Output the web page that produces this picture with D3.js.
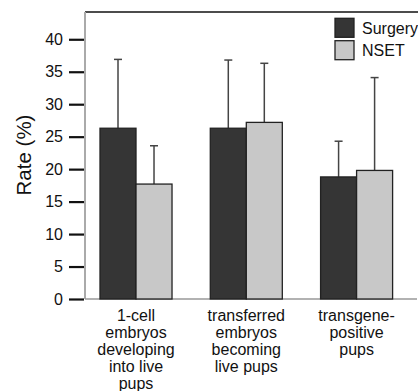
<!DOCTYPE html>
<html>
<head>
<meta charset="utf-8">
<script src="https://cdn.jsdelivr.net/npm/d3@7"></script>
<style>
  body { margin: 0; background: #fff; }
  svg { display: block; font-family: 'Liberation Sans', Arial, sans-serif; }
</style>
</head>
<body>
<svg id="chart"></svg>
<script>
// data
var categories = [
    ['1-cell', 'embryos', 'developing', 'into live', 'pups'],
    ['transferred', 'embryos', 'becoming', 'live pups'],
    ['transgene-', 'positive', 'pups']
];
var series = ['Surgery', 'NSET'];
var surgery = [26.3, 26.3, 18.8];
var surgery_err = [10.6, 10.5, 5.5];
var nset = [17.7, 27.2, 19.8];
var nset_err = [5.9, 9.1, 14.3];
var y_ticks = [0, 5, 10, 15, 20, 25, 30, 35, 40];

var colors = { Surgery: '#353535', NSET: '#c8c8c8' };

var width = 418, height = 391;
var svg = d3.select('#chart').attr('width', width).attr('height', height);

var m = { left: 85, top: 12, bottom: 299, right: 418 };

var y = d3.scaleLinear().domain([0, 44.2]).range([m.bottom, m.top]);

var groups = categories.map(function(c, i){ return 'g' + i; });
var x = d3.scaleBand().domain(groups).range([m.left, 407.6]).paddingInner(0.347).paddingOuter(0.136);
var xs = d3.scaleBand().domain(series).range([0, x.bandwidth()]);

// frame lines
svg.append('line').attr('x1', m.left).attr('x2', m.right).attr('y1', m.top).attr('y2', m.top)
    .style('stroke', '#111').style('stroke-width', 1.5);
svg.append('line').attr('x1', m.left).attr('x2', m.left).attr('y1', m.top).attr('y2', m.bottom)
    .style('stroke', '#aaa').style('stroke-width', 2);
svg.append('line').attr('x1', m.left).attr('x2', m.right - 1).attr('y1', m.bottom).attr('y2', m.bottom)
    .style('stroke', '#999').style('stroke-width', 1.5);

// y axis ticks
var yAxis = d3.axisLeft(y).tickValues(y_ticks).tickSize(15).tickPadding(6);
var ya = svg.append('g').attr('transform', 'translate(' + (m.left - 1) + ',0)').call(yAxis);
ya.select('.domain').remove();
ya.selectAll('.tick line').style('stroke', '#111').style('stroke-width', 2.2);
ya.selectAll('.tick text').style('font-size', '16px').style('fill', '#111')
    .style('font-family', "'Liberation Sans', Arial, sans-serif");

svg.append('text')
    .attr('transform', 'translate(31,' + 155 + ') rotate(-90)')
    .attr('text-anchor', 'middle')
    .style('font-size', '20.5px').style('fill', '#111')
    .text('Rate (%)');

// bars
var rows = [];
groups.forEach(function(g, i){
    rows.push({ g: g, s: 'Surgery', v: surgery[i], e: surgery_err[i] });
    rows.push({ g: g, s: 'NSET', v: nset[i], e: nset_err[i] });
});

var err = svg.append('g').selectAll('g').data(rows).enter().append('g')
    .style('stroke', '#444').style('stroke-width', 1.5);
err.append('line')
    .attr('x1', function(d){ return x(d.g) + xs(d.s) + xs.bandwidth()/2; })
    .attr('x2', function(d){ return x(d.g) + xs(d.s) + xs.bandwidth()/2; })
    .attr('y1', function(d){ return y(d.v); })
    .attr('y2', function(d){ return y(d.v + d.e); });
err.append('line')
    .attr('x1', function(d){ return x(d.g) + xs(d.s) + xs.bandwidth()/2 - 4; })
    .attr('x2', function(d){ return x(d.g) + xs(d.s) + xs.bandwidth()/2 + 4; })
    .attr('y1', function(d){ return y(d.v + d.e); })
    .attr('y2', function(d){ return y(d.v + d.e); });

svg.append('g').selectAll('rect').data(rows).enter().append('rect')
    .attr('x', function(d){ return x(d.g) + xs(d.s); })
    .attr('y', function(d){ return y(d.v); })
    .attr('width', xs.bandwidth())
    .attr('height', function(d){ return y(0) - y(d.v); })
    .style('fill', function(d){ return colors[d.s]; })
    .style('stroke', '#222').style('stroke-width', 1.3);

// category labels
var cl = svg.append('g').selectAll('text').data(categories).enter().append('text')
    .attr('text-anchor', 'middle')
    .attr('x', function(d, i){ return x(groups[i]) + x.bandwidth()/2; })
    .attr('y', 321)
    .style('font-size', '16px').style('fill', '#111');
cl.selectAll('tspan').data(function(d){ return d; }).enter().append('tspan')
    .attr('x', function(){ return d3.select(this.parentNode).attr('x'); })
    .attr('dy', function(d, i){ return i == 0 ? 0 : 17.1; })
    .text(function(d){ return d; });

// legend
var lg = svg.append('g').selectAll('g').data(series).enter().append('g')
    .attr('transform', function(d, i){ return 'translate(335,' + (18.3 + i*22.4) + ')'; });
lg.append('rect').attr('width', 19).attr('height', 19)
    .style('fill', function(d){ return colors[d]; })
    .style('stroke', '#222').style('stroke-width', 1.3);
lg.append('text').attr('x', 27).attr('y', 15.5)
    .style('font-size', '16px').style('fill', '#111')
    .text(function(d){ return d; });
</script>
</body>
</html>
